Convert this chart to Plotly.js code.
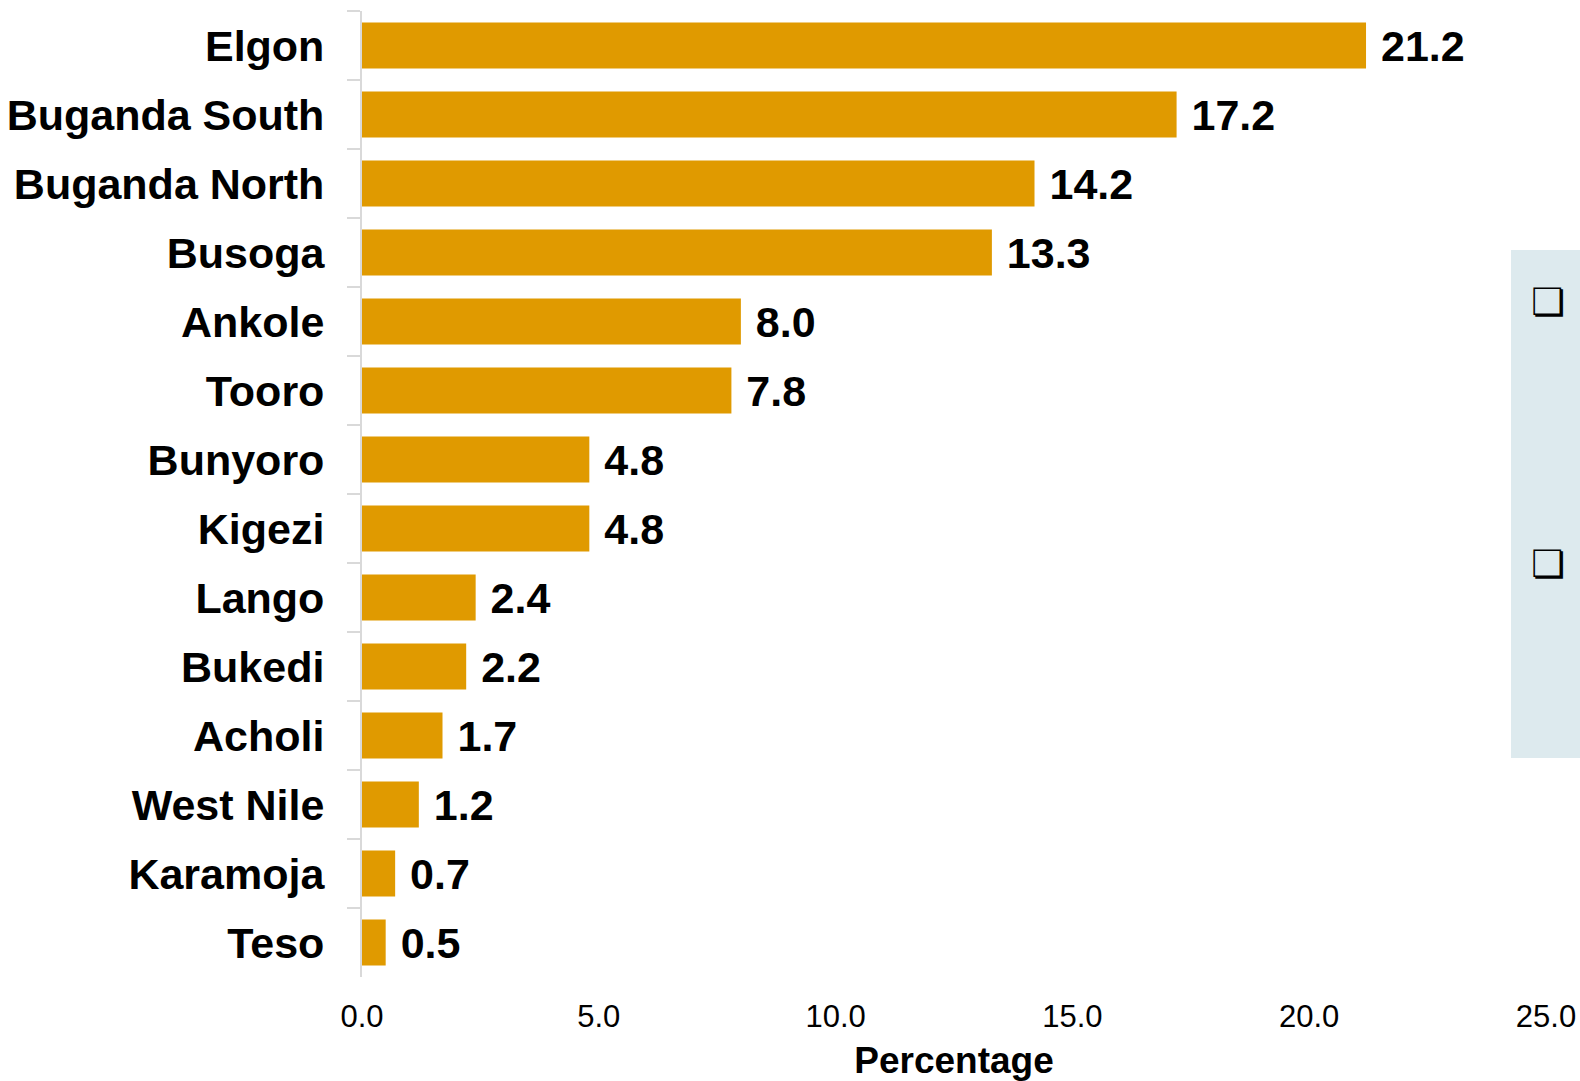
<!DOCTYPE html>
<html>
<head>
<meta charset="utf-8">
<script src="https://cdn.plot.ly/plotly-3.0.1.min.js"></script>
<style>html,body{margin:0;padding:0;background:#fff;}#chart{width:1580px;height:1081px;}</style>
</head>
<body>
<div id="chart"></div>
<script>
const regions = ["Elgon","Buganda South","Buganda North","Busoga","Ankole","Tooro","Bunyoro","Kigezi","Lango","Bukedi","Acholi","West Nile","Karamoja","Teso"];
const percentages = [21.2,17.2,14.2,13.3,8.0,7.8,4.8,4.8,2.4,2.2,1.7,1.2,0.7,0.5];
const xTickValues = [0,5,10,15,20,25];
const xTickLabels = ["0.0","5.0","10.0","15.0","20.0","25.0"];
const boxBullets = ["\u274F","\u274F"];

const W = 1580, H = 1081;
const L = 362, R = 1546, T = 11, B = 977;
const px = x => (x - L) / (R - L);
const py = y => (B - y) / (B - T);

const trace = {
  type: 'bar',
  orientation: 'h',
  y: regions,
  x: percentages,
  marker: {color: '#E09A00', line: {width: 0}},
  text: percentages.map(v => '\u00a0' + v.toFixed(1)),
  textposition: 'outside',
  textfont: {family: 'Liberation Sans, Arial, sans-serif', size: 43, color: '#000000', weight: 'bold'},
  constraintext: 'none',
  cliponaxis: false,
  hoverinfo: 'none'
};

const layout = {
  width: W, height: H,
  margin: {l: L, r: W - R, t: T, b: H - B, pad: 0},
  paper_bgcolor: '#ffffff',
  plot_bgcolor: '#ffffff',
  showlegend: false,
  bargap: 0.333,
  font: {family: 'Liberation Sans, Arial, sans-serif', color: '#000000'},
  xaxis: {
    range: [0, 25],
    tickvals: xTickValues,
    ticktext: xTickLabels,
    showgrid: false,
    zeroline: false,
    showline: false,
    ticks: '',
    tickfont: {size: 31, color: '#000000'},
    ticklabelstandoff: 18,
    title: {text: 'Percentage', font: {size: 37, weight: 'bold', color: '#000000'}, standoff: 20}
  },
  yaxis: {
    type: 'category',
    autorange: 'reversed',
    showgrid: false,
    zeroline: false,
    showline: true,
    linecolor: '#d9d9d9',
    linewidth: 2,
    ticks: 'outside',
    tickson: 'boundaries',
    ticklen: 13,
    tickwidth: 2,
    tickcolor: '#d9d9d9',
    tickfont: {size: 43, weight: 'bold', color: '#000000'},
    ticklabelstandoff: 27
  },
  shapes: [{
    type: 'rect', xref: 'paper', yref: 'paper',
    x0: px(1511), x1: px(1600), y0: py(758), y1: py(250),
    fillcolor: '#DDEAEE', line: {width: 0}, layer: 'below'
  }],
  annotations: boxBullets.map((b, i) => ({
    xref: 'paper', yref: 'paper',
    x: px(1548), y: py(i === 0 ? 302 : 564),
    text: b, showarrow: false,
    font: {family: 'DejaVu Sans', size: 38, color: '#000000'},
    xanchor: 'center', yanchor: 'middle'
  }))
};

Plotly.newPlot('chart', [trace], layout, {displayModeBar: false, staticPlot: true});
</script>
</body>
</html>
